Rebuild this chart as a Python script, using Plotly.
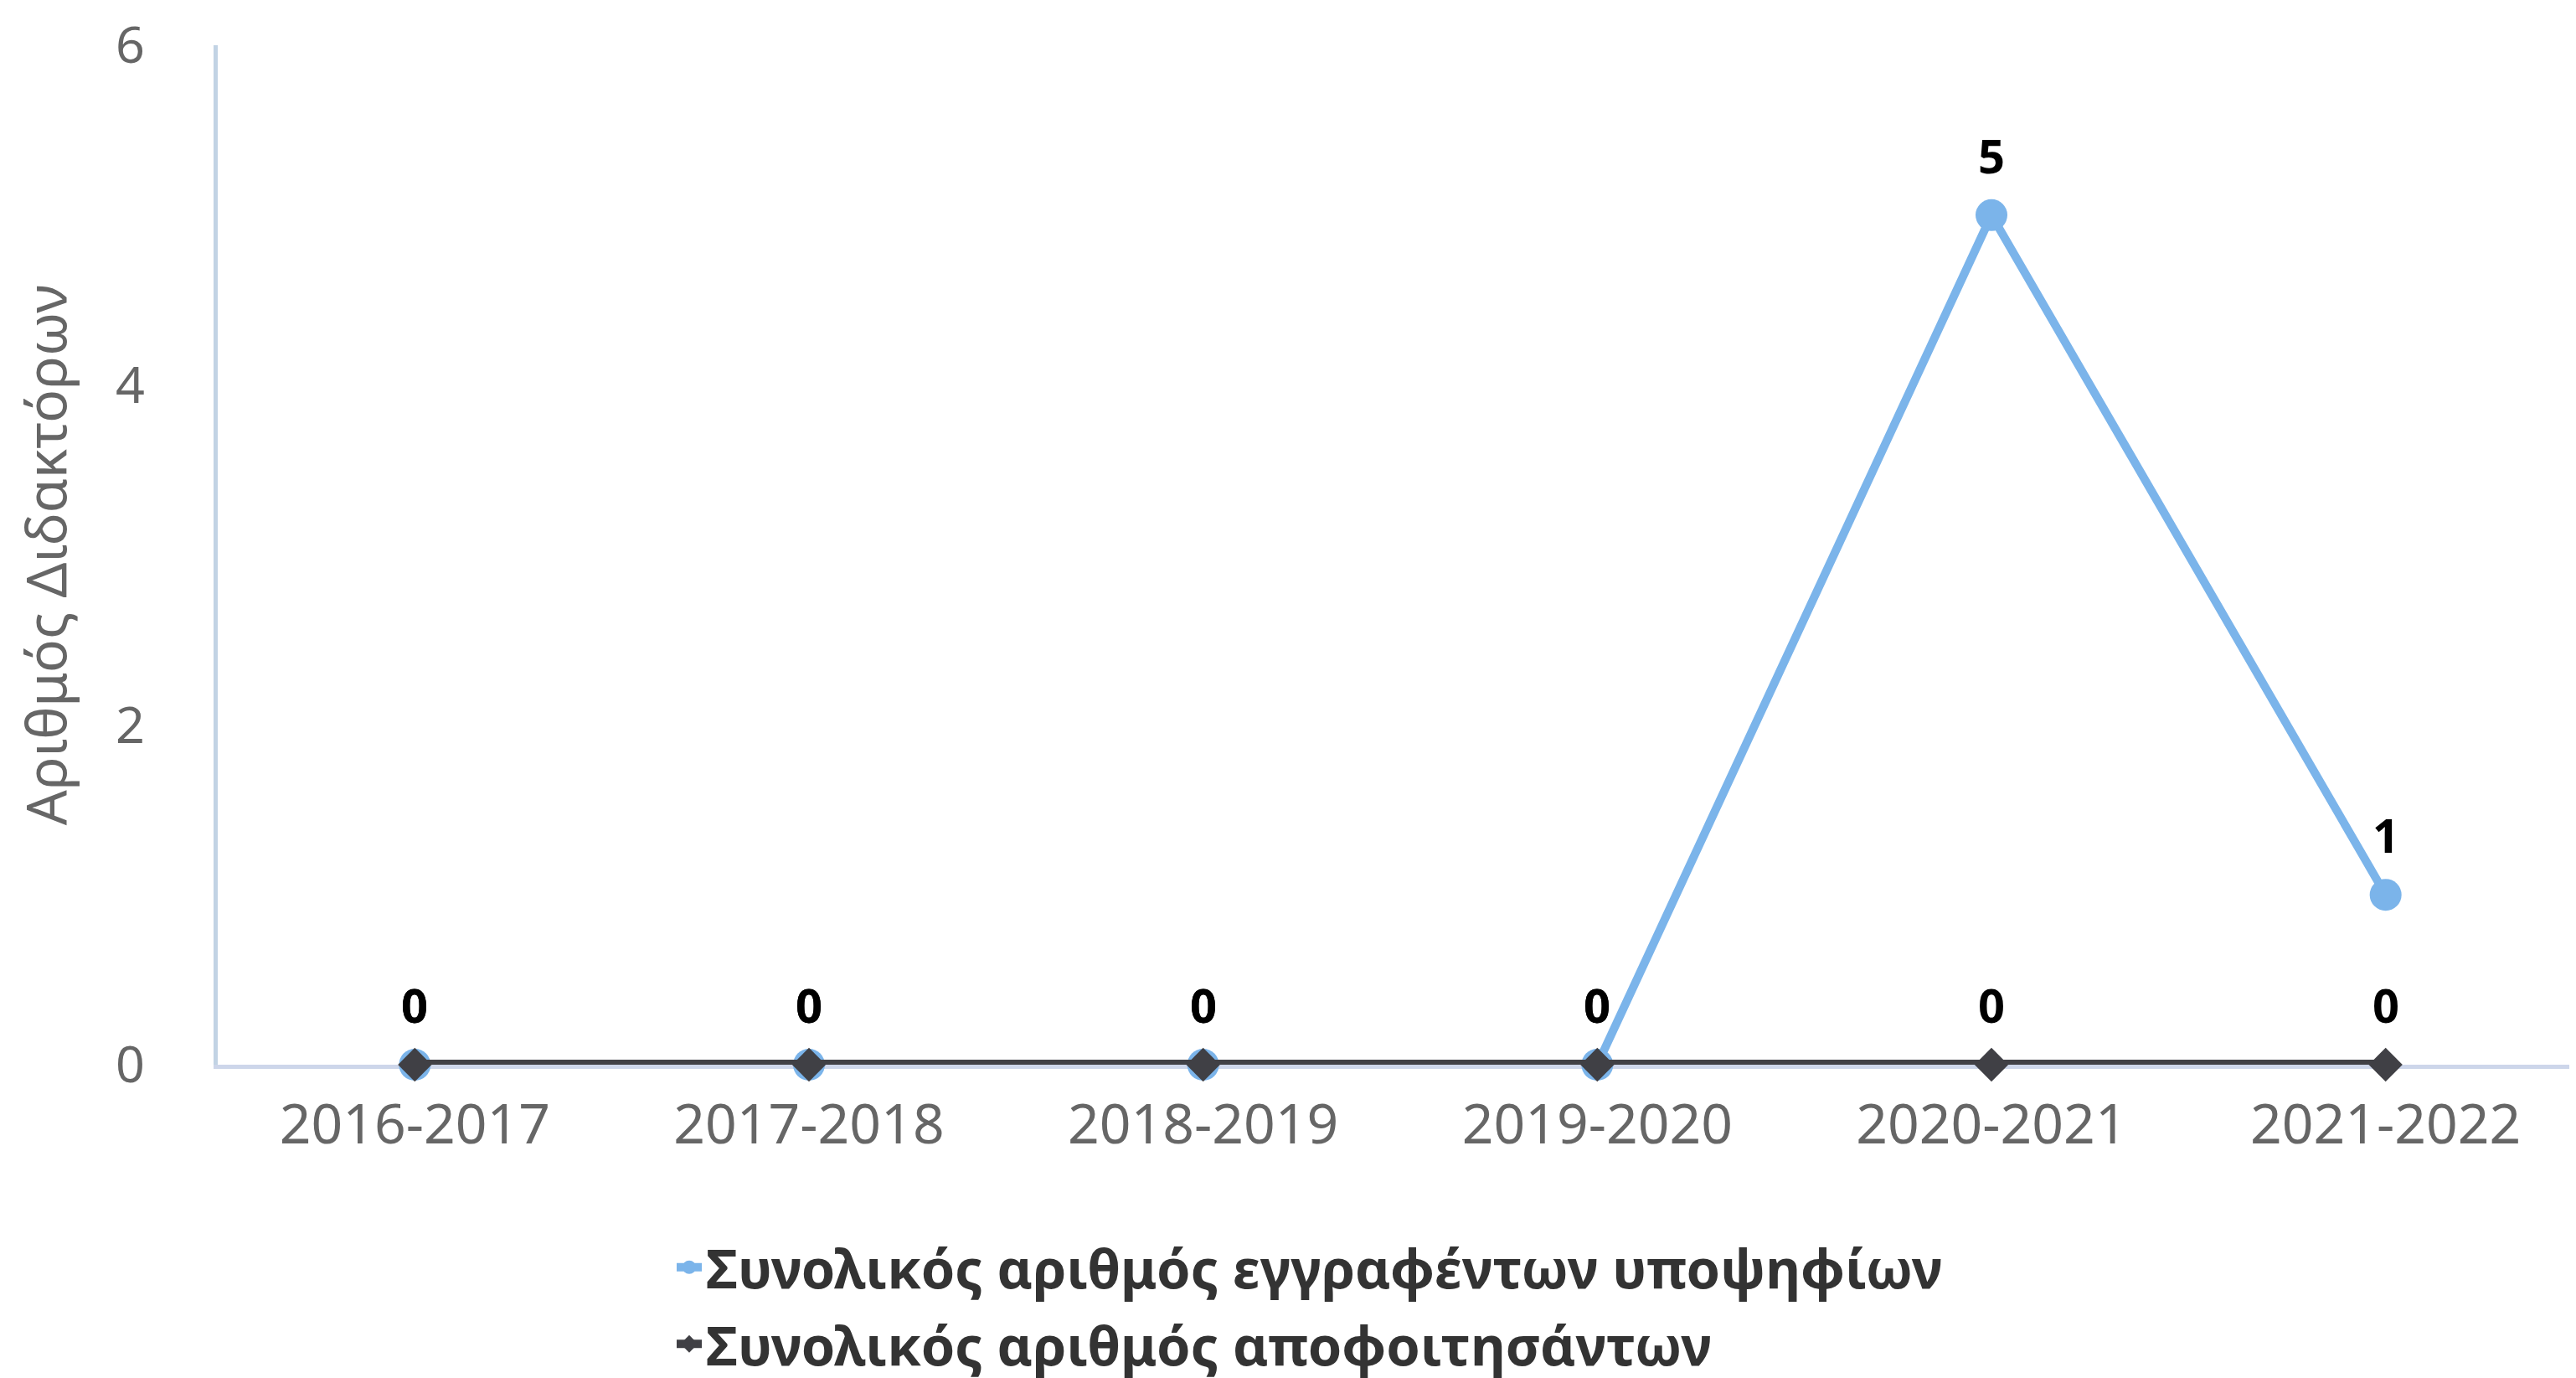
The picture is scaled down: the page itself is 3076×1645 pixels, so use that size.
import plotly.graph_objects as go

years = ["2016-2017", "2017-2018", "2018-2019", "2019-2020", "2020-2021", "2021-2022"]
registered = [0, 0, 0, 0, 5, 1]
graduated = [0, 0, 0, 0, 0, 0]
name_registered = "Συνολικός αριθμός εγγραφέντων υποψηφίων"
name_graduated = "Συνολικός αριθμός αποφοιτησάντων"
y_title = "Αριθμός Διδακτόρων"
y_ticks = [0, 2, 4, 6]

BLUE = "#7bb4ea"
DARK = "#404045"
FONT = "Noto Sans"

W, H = 3076, 1645
L, R, T, B = 252, 0, 46, 382

fig = go.Figure()
fig.add_trace(go.Scatter(
    x=years, y=registered, name=name_registered, mode="lines+markers",
    line=dict(color=BLUE, width=10),
    marker=dict(symbol="circle", size=38, color=BLUE),
    cliponaxis=False, legendgroup="a",
))
fig.add_trace(go.Scatter(
    x=years, y=graduated, name=name_graduated, mode="lines+markers",
    line=dict(color=DARK, width=12),
    marker=dict(symbol="diamond", size=31, color=DARK),
    cliponaxis=False, legendgroup="b",
))

# data labels
for series in (registered, graduated):
    for xv, yv in zip(years, series):
        fig.add_annotation(
            x=xv, y=yv, text=str(yv), showarrow=False,
            yshift=72, font=dict(family=FONT, size=56, color="#000000", weight="bold"),
            xanchor="center", yanchor="middle",
        )

fig.update_layout(
    width=W, height=H,
    margin=dict(l=L, r=R, t=T, b=B, autoexpand=False),
    paper_bgcolor="white", plot_bgcolor="white",
    showlegend=True,
    legend=dict(
        orientation="v", traceorder="grouped", tracegroupgap=4,
        x=(795 - L) / (W - L - R), xanchor="left",
        y=(H - B - H) / (H - T - B), yanchor="bottom",
        font=dict(family=FONT, size=65, color="#333333", weight="bold"),
        bgcolor="rgba(0,0,0,0)",
    ),
    xaxis=dict(
        type="category", range=[-0.5, 5.5],
        showline=True, linecolor="#cdd6ea", linewidth=5,
        showgrid=False, zeroline=False, ticks="",
        tickfont=dict(family=FONT, size=66, color="#666666"),
        ticklabelstandoff=10,
        layer="below traces",
    ),
    yaxis=dict(
        range=[0, 6], tickvals=y_ticks,
        showline=True, linecolor="#c2d3e4", linewidth=5,
        showgrid=False, zeroline=False, ticks="",
        tickfont=dict(family=FONT, size=61, color="#666666"),
        ticklabelstandoff=70, ticklabeloverflow="allow",
        layer="below traces",
        title=dict(text=y_title, font=dict(family=FONT, size=66, color="#666666"), standoff=70),
    ),
)

fig.write_html("out.html")
